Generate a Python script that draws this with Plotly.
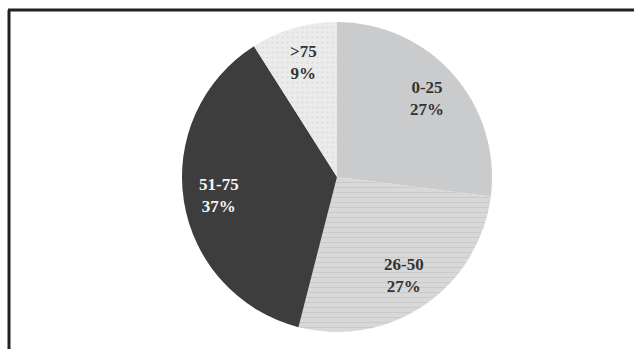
import math
import plotly.graph_objects as go

labels = ["0-25", "26-50", "51-75", ">75"]
values = [27, 27, 37, 9]
slice_colors = ["#c9cbcd", "#d8d8d9", "#3d3d3d", "#ebebeb"]
pattern_fg = ["#c9cbcd", "#c6c6c7", "#3d3d3d", "#dcdcdc"]
pattern_shapes = ["", "-", "", "."]
text_colors = ["#333333", "#333333", "#f4f4f4", "#333333"]

W, H = 634, 349
CX, CY, R = 337, 177, 155  # pixel layout of the pie

fig = go.Figure(go.Pie(
    labels=labels,
    values=values,
    sort=False,
    direction="clockwise",
    rotation=0,
    marker=dict(colors=slice_colors, line=dict(width=0),
                pattern=dict(shape=pattern_shapes, fgcolor=pattern_fg,
                             bgcolor=slice_colors, size=5, solidity=0.15)),
    textinfo="none",
    showlegend=False,
    hoverinfo="label+percent",
    domain=dict(x=[(CX - R) / W, (CX + R) / W],
                y=[(H - CY - R) / H, (H - CY + R) / H]),
))

# labels placed at each slice's mid-angle, derived from the values
total = sum(values)
cum = 0
for lab, val, tc in zip(labels, values, text_colors):
    mid = (cum + val / 2) / total * 2 * math.pi
    cum += val
    rr = 0.77 * R
    px = CX + rr * math.sin(mid)
    py = CY - rr * math.cos(mid)
    fig.add_annotation(
        x=px / W, y=1 - py / H, xref="paper", yref="paper",
        xanchor="center", yanchor="middle",
        text=f"{lab}<br>{val}%", showarrow=False,
        font=dict(family="Liberation Serif", size=17, color=tc, weight="bold"),
        align="center",
    )

# frame: top and left edges (the rest lies outside the picture)
fig.add_shape(type="line", xref="paper", yref="paper",
              x0=8 / W, x1=1, y0=(H - 10) / H, y1=(H - 10) / H,
              line=dict(color="#222222", width=3))
fig.add_shape(type="line", xref="paper", yref="paper",
              x0=9 / W, x1=9 / W, y0=0, y1=(H - 10) / H,
              line=dict(color="#222222", width=3))

fig.update_layout(
    width=W, height=H,
    margin=dict(l=0, r=0, t=0, b=0),
    paper_bgcolor="white",
    plot_bgcolor="white",
    font=dict(family="Liberation Serif"),
)

fig.write_html("out.html")
